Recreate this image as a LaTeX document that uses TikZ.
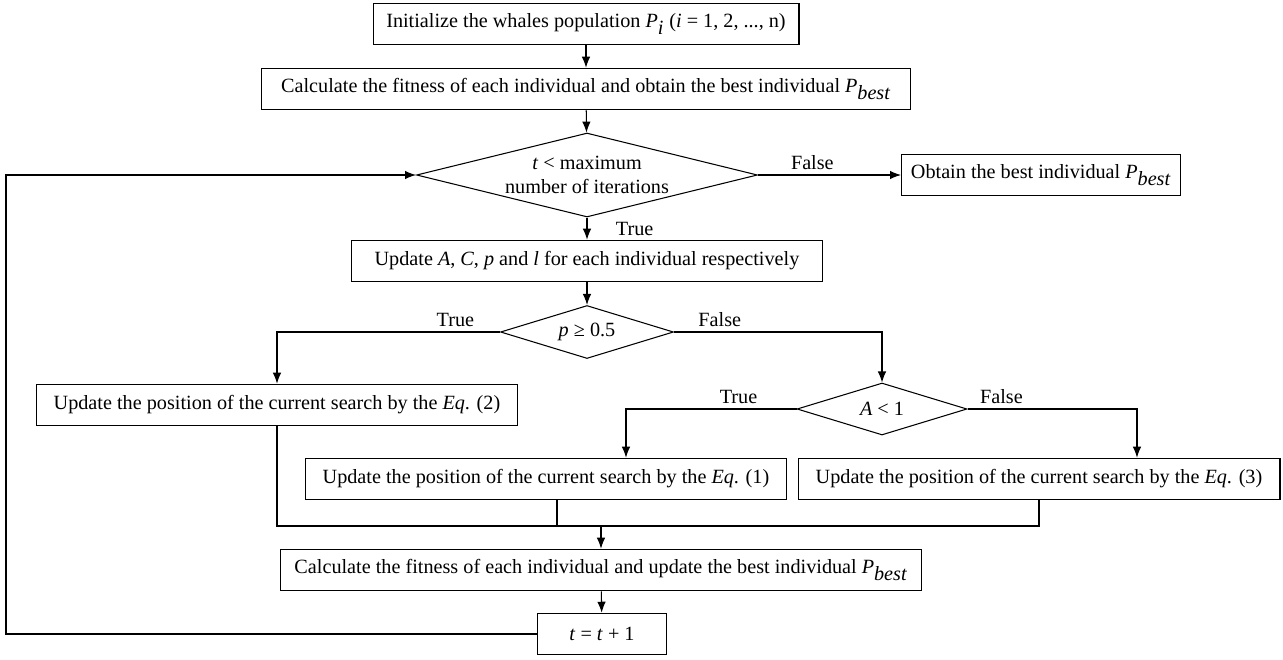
\documentclass[tikz,border=0pt]{standalone}
\usepackage{fontspec}
\setmainfont{Liberation Serif}
\usetikzlibrary{shapes.geometric,arrows.meta,positioning}

\begin{document}
\begin{tikzpicture}[
        x=0.02cm, y=-0.02cm,
        font=\fontsize{11.5}{13.5}\selectfont,
        line width=0.6pt,
        box/.style={rectangle, draw, minimum height=0.83cm, inner xsep=3pt},
        cond/.style={diamond, draw, inner sep=0pt, align=center},
        arr/.style={-{Latex[length=2.2mm,width=1.7mm]}},
        lbl/.style={above, inner sep=2.5pt}
      ]
        \useasboundingbox (0,0) rectangle (1283,659);

        \node[box, minimum width=8.52cm] (init) at (586,24) {Initialize the whales population $\textit{P}_{\textit{i}}$ (\textit{i} = 1, 2, ..., n)};
        \node[box, minimum width=13cm] (calc1) at (586,89) {Calculate the fitness of each individual and obtain the best individual $\textit{P}_{\textit{best}}$};
        \node[cond, aspect=4.06, minimum width=6.82cm, minimum height=1.68cm] (cond1) at (587,175) {\textit{t} < maximum\\number of iterations};
        \node[box, minimum width=5.58cm] (best) at (1041,175) {Obtain the best individual $\textit{P}_{\textit{best}}$};
        \node[box, minimum width=9.44cm] (upd) at (587,261) {Update \textit{A}, \textit{C}, \textit{p} and \textit{l} for each individual respectively};
        \node[cond, aspect=3.26, minimum width=3.46cm, minimum height=1.06cm] (cond2) at (587,332) {\textit{p} ≥ 0.5};
        \node[box, minimum width=9.62cm] (eq2) at (277,405) {Update the position of the current search by the \textit{Eq}. (2)};
        \node[cond, aspect=3.27, minimum width=3.4cm, minimum height=1.04cm] (cond3) at (882,409) {\textit{A} < 1};
        \node[box, minimum width=9.64cm] (eq1) at (546,479) {Update the position of the current search by the \textit{Eq}. (1)};
        \node[box, minimum width=9.64cm] (eq3) at (1039,479) {Update the position of the current search by the \textit{Eq}. (3)};
        \node[box, minimum width=12.84cm] (calc2) at (601,570) {Calculate the fitness of each individual and update the best individual $\textit{P}_{\textit{best}}$};
        \node[box, minimum width=2.58cm] (tinc) at (602,634) {\textit{t} = \textit{t} + 1};

        \coordinate (mrg) at (601,526);
        \coordinate (loop) at (6,634);

        % main flow
        \draw[arr] (init) -- (calc1);
        \draw[arr] (calc1) -- (cond1);
        \draw[arr] (cond1.east) -- node[lbl, pos=0.38] {False} (best);
        \draw[arr] (cond1.south) -- node[right=0.45cm] {True} (upd.north);
        \draw[arr] (upd) -- (cond2);
        \draw[arr] (cond2.west) -| node[lbl, pos=0.1] {True} (eq2.north);
        \draw[arr] (cond2.east) -| node[lbl, pos=0.11] {False} (cond3.north);
        \draw[arr] (cond3.west) -| node[lbl, pos=0.17] {True} ([xshift=1.6cm]eq1.north);
        \draw[arr] (cond3.east) -| node[lbl, pos=0.1] {False} ([xshift=1.96cm]eq3.north);

        % merge
        \draw (eq2.south) |- (mrg) -| (eq3.south);
        \draw ([xshift=0.22cm]eq1.south) -- ([xshift=0.22cm]eq1.south |- mrg);
        \draw[arr] (mrg) -- (calc2.north);
        \draw[arr] (calc2) -- (tinc);

        % loop back
        \draw[arr] (tinc.west) -- (loop) |- (cond1.west);
      \end{tikzpicture}
\end{document}
